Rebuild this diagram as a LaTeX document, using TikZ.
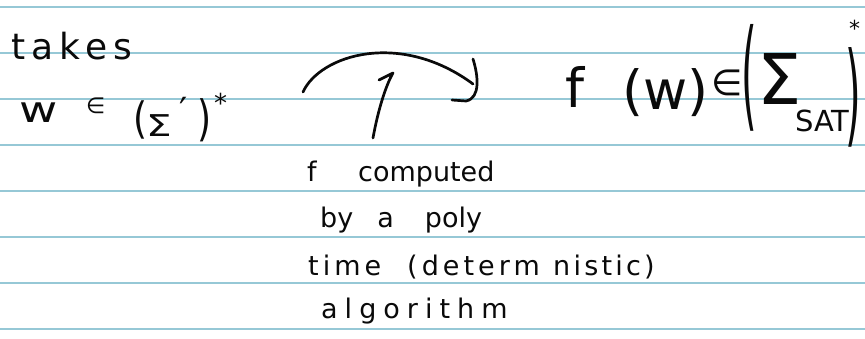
\documentclass[tikz,border=0pt]{standalone}
\usepackage{fontspec}
\setmainfont{DejaVu Sans}
\newfontfamily\hand{DejaVu Sans}
\definecolor{rule}{RGB}{150,200,214}
\definecolor{ink}{RGB}{10,10,10}
\newcommand{\track}[1]{\addfontfeature{LetterSpace=#1}}
\tikzset{
  ruling/.style={draw=rule, line width=1.6pt},
  pen/.style={draw=ink, line width=2.7pt, line cap=round, line join=round},
  txt/.style={anchor=base west, inner sep=0pt, text=ink},
  sized/.style={txt, font=\hand\fontsize{#1}{#1}\selectfont},
  small/.style={sized=27},
}
\begin{document}
\begin{tikzpicture}[x=1pt,y=-1pt]
\useasboundingbox (0,0) rectangle (865,339);
\fill[white] (0,0) rectangle (865,339);
% ruled lines of the page
\foreach \yy in {7,53,99,145,191,237,283,329}
  \draw[ruling] (0,\yy) -- (865,\yy);

% input side
\node[sized=36] (takes) at (11,60) {\track{17}takes};
\node[sized=36] (w) at (19,123) {\scalebox{1.3}[1]{w}};
\node[sized=22] (in1) at (86,114) {∈};
\node[sized=36] (lp1) at (133,134) {\scalebox{1}[1.2]{(}};
\node[sized=30] (sig1) at (146,137) {\scalebox{1.35}[1]{Σ}};
\node[sized=36] (pr1) at (179,124) {′};
\node[sized=36] (rp1) at (197,136) {\scalebox{1}[1.35]{)}};
\node[sized=26] (st1) at (214,113) {*};

% output side
\node[sized=54] (f) at (565,108) {f};
\node[sized=54] (w2) at (622,110) {(w)};
\node[sized=36] (in2) at (711,96) {∈};
\node[sized=40] (lp2) at (741,116) {\scalebox{1}[3.0]{(}};
\node[sized=70] (sig2) at (757,105) {Σ};
\node[sized=29] (sat) at (795,132) {SAT};
\node[sized=40] (rp2) at (845,133) {\scalebox{1}[2.8]{)}};
\node[sized=22] (st2) at (849,37) {*};

% explanation
\node[small] (l1f) at (307,182) {f};
\node[small] (l1) at (358,182) {computed};
\node[small] (l2) at (320,228) {by\hspace{24pt}a\hspace{31pt}poly};
\node[small] (l3a) at (308,276) {\track{15}time};
\node[small] (l3b) at (407,276) {\track{15}(determ};
\node[small] (l3c) at (553,276) {\track{12}nistic)};
\node[small] (l4) at (321,318) {\track{26}algorithm};

% connectors
\coordinate (a0) at (303,92);
\coordinate (a1) at (473,84);
\coordinate (h0) at (473,59);
\coordinate (h1) at (452,100);
\draw[pen] (a0) .. controls (320,55) and (400,30) .. (a1);
\draw[pen] (h0) .. controls (478,75) and (481,98) .. (466,101) -- (h1);
\coordinate (v0) at (373,138);
\coordinate (v1) at (393,73);
\coordinate (v2) at (379,80);
\draw[pen] (v0) .. controls (378,110) and (386,85) .. (v1) -- (v2);
\end{tikzpicture}
\end{document}
